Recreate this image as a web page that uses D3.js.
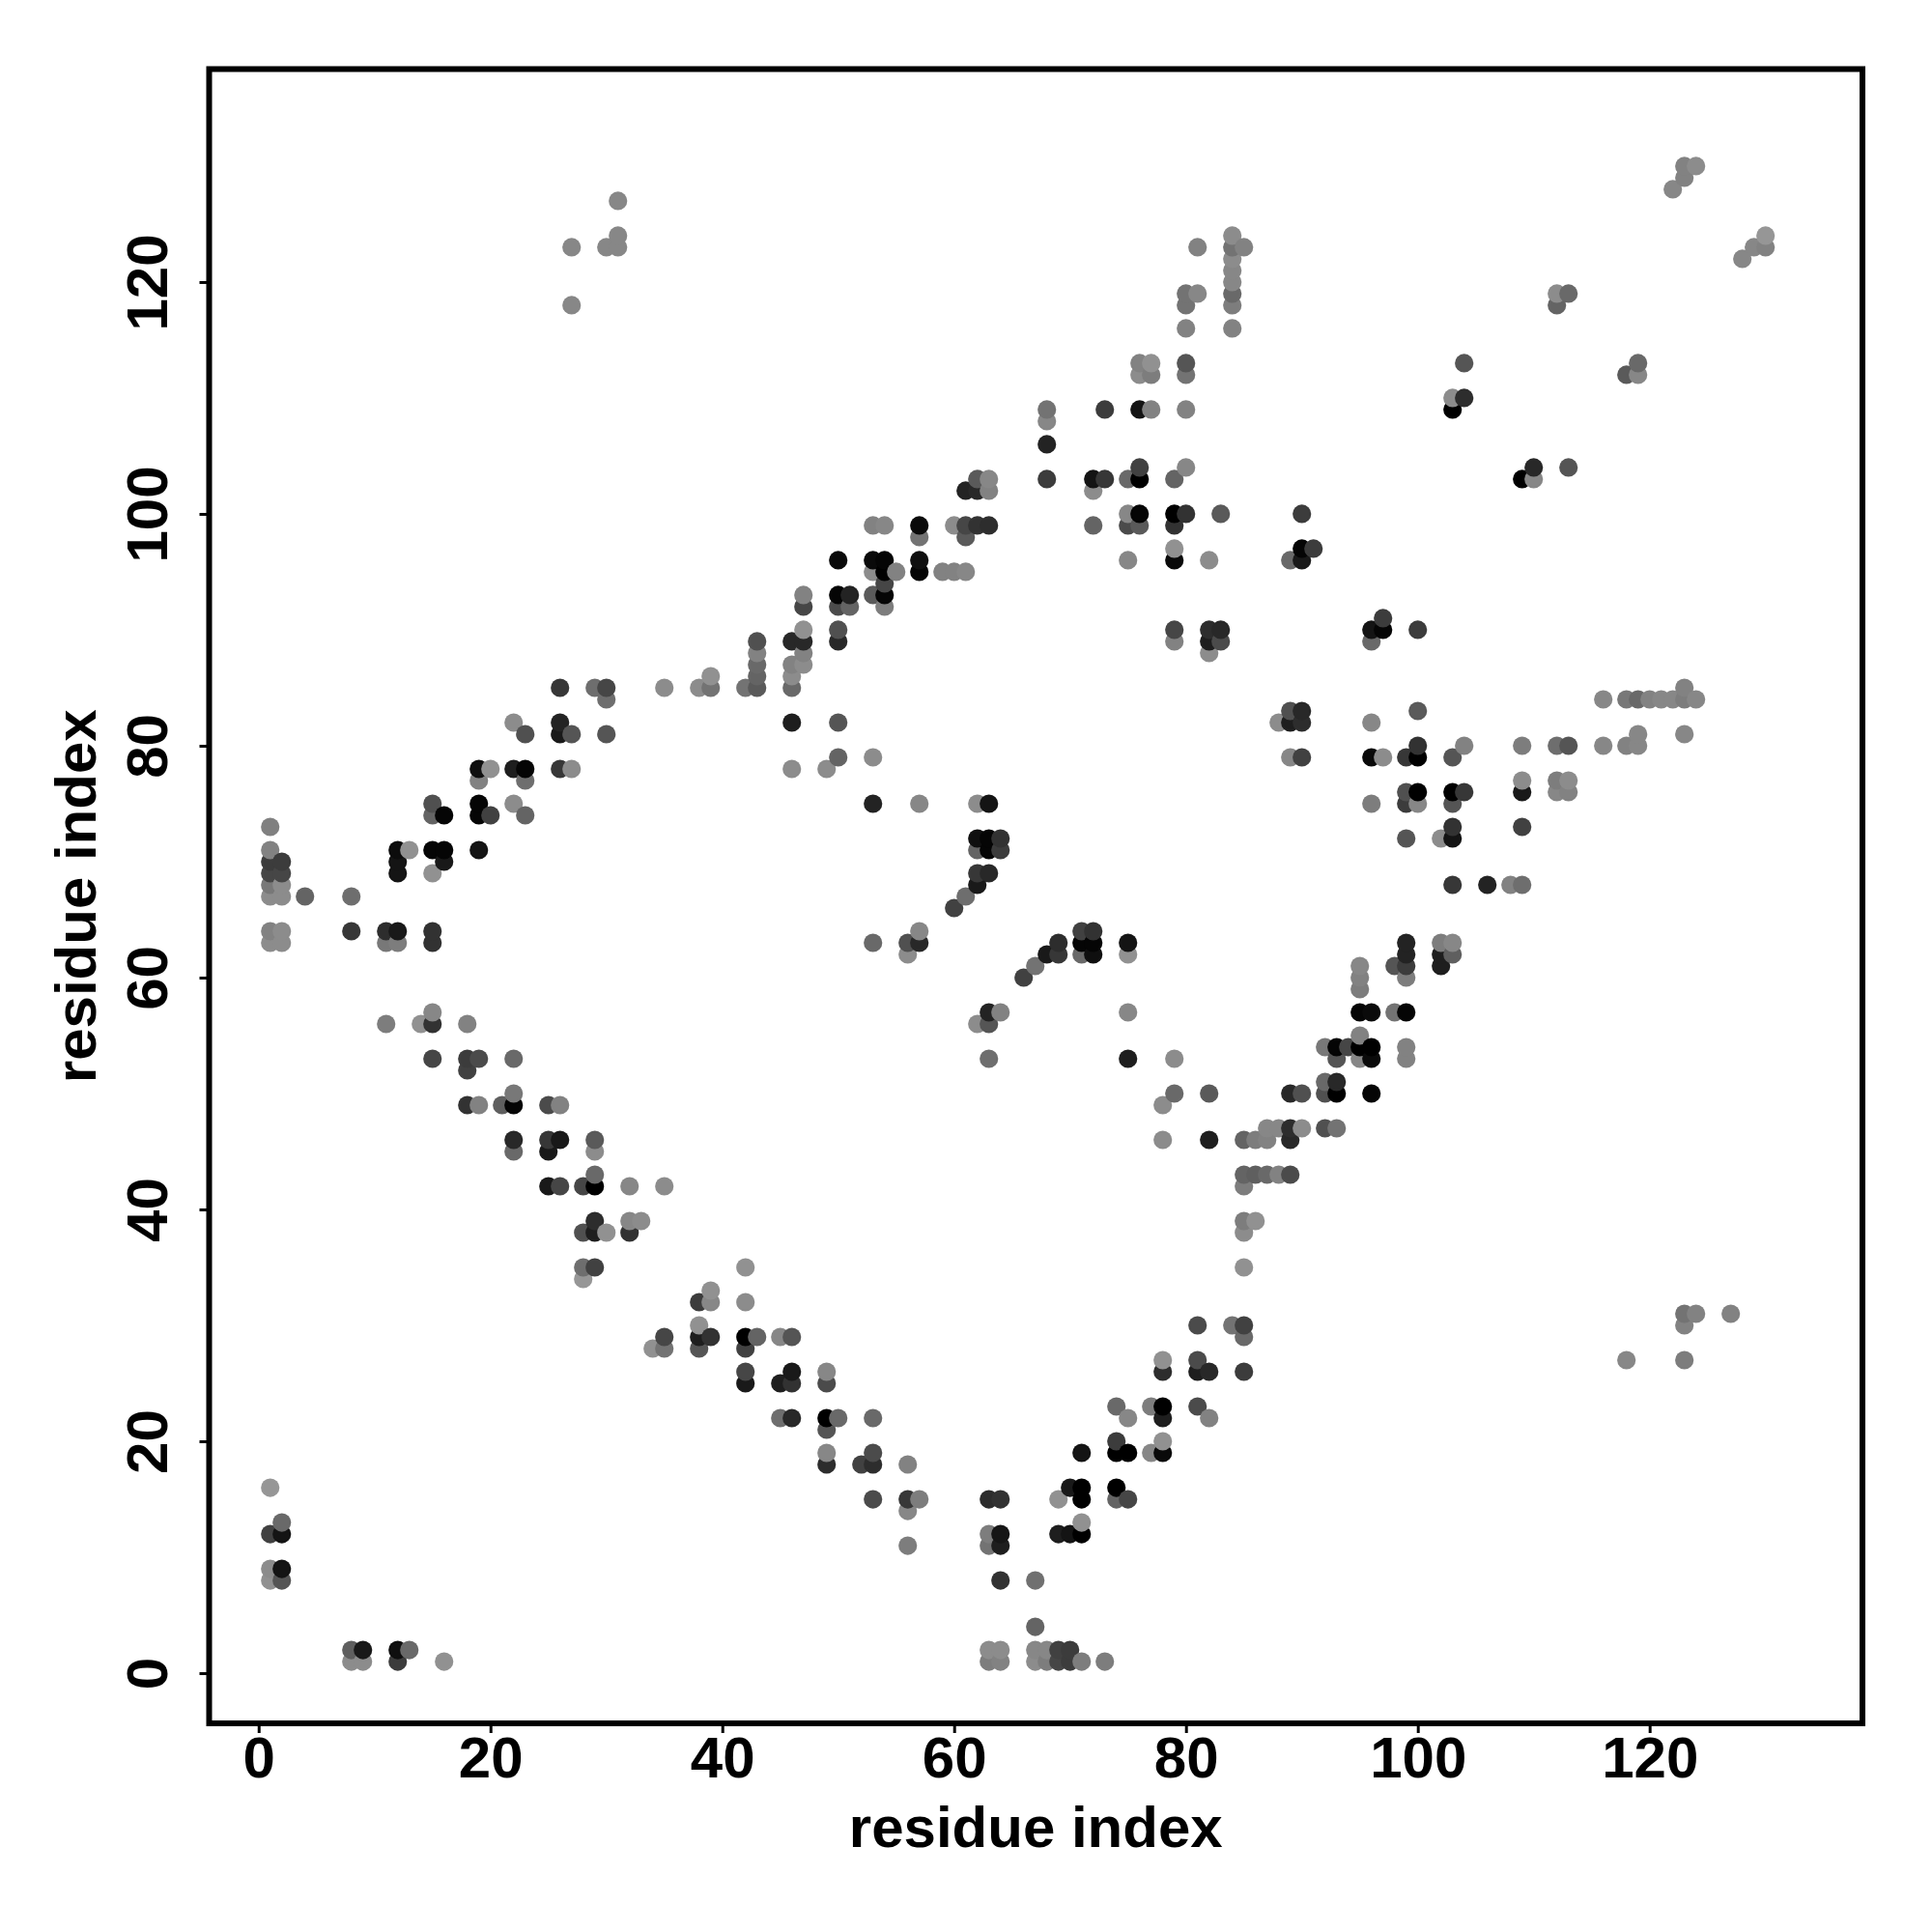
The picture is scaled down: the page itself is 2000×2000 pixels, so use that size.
<!DOCTYPE html>
<html>
<head>
<meta charset="utf-8">
<script src="https://cdnjs.cloudflare.com/ajax/libs/d3/7.8.5/d3.min.js"></script>
<style>html,body{margin:0;padding:0;background:#fff}svg{display:block}</style>
</head>
<body>
<div id="chart"></div>
<script>
const tickValues = [0, 20, 40, 60, 80, 100, 120];
const axisTitle = "residue index";
const residueX = [1,2,4,8,9,11,12,13,14,15,16,18,19,20,21,22,23,25,26,27,28,29,30,31,32,33,34,35,38,39,42,43,45,46,47,49,50,51,52,53,54,55,56,57,59,60,61,62,63,64,66,67,68,69,70,71,72,73,74,75,76,77,78,79,80,81,82,83,84,85,86,87,88,89,90,91,92,93,94,95,96,97,98,99,100,102,103,104,106,108,109,110,112,113,116,118,119,120,121,122,123,124,127,128,129,130];
const contactY = [
[8,9,12,16,63,64,67,68,69,70,71,73],
[8,9,12,13,63,64,67,68,69,70],
[67],
[1,2,64,67],
[1,2],
[56,63,64],
[1,2,63,64,69,70,71],
[2,71],
[56],
[53,56,57,63,64,69,71,74,75],
[1,70,71,74],
[49,52,53,56],
[49,53,71,74,75,77,78],
[74,78],
[49],
[45,46,49,50,53,75,78,82],
[74,77,78,81],
[42,45,46,49],
[42,46,49,78,81,82,85],
[78,81,118,123],
[34,35,38,42],
[35,38,39,42,43,45,46,85],
[38,81,84,85,123],
[123,124,127],
[38,39,42],
[39],
[28],
[28,29,42,85],
[28,29,30,32,85],
[29,32,33,85,86],
[25,26,28,29,32,35,85],
[29,85,86,87,88,89],
[22,25,29],
[22,25,26,29,78,82,85,86,87,89],
[87,88,89,90,92,93],
[18,19,21,22,25,26,78],
[22,79,82,89,90,92,93,96],
[92,93],
[18],
[15,18,19,22,63,75,79,93,95,96,99],
[92,93,94,95,96,99],
[95],
[11,14,15,18,62,63],
[15,63,64,75,95,96,98,99],
[95],
[66,95,99],
[67,95,98,99,102],
[56,68,69,71,72,75,99,102,103],
[1,2,11,12,15,53,56,57,69,71,72,75,99,102,103],
[1,2,8,11,12,15,57,71,72],
[60],
[1,2,4,8,61],
[1,2,62,103,106,108,109],
[1,2,12,15,62,63],
[1,2,12,16],
[1,12,13,15,16,19,62,63,64],
[62,63,64,99,102,103],
[1,103,109],
[15,16,19,20,23],
[15,19,22,53,57,62,63,96,99,100,103],
[99,100,103,104,109,112,113],
[19,23,109,112,113],
[19,20,22,23,26,27,46,49],
[50,53,89,90,96,97,99,100,103],
[100,104,109,112,113,116,118,119],
[23,26,27,30,119,123],
[22,26,46,50,88,89,90,96],
[89,90,100],
[30,116,118,119,120,121,122,123,124],
[26,29,30,35,38,39,42,43,46,123],
[39,43,46],
[43,46,47],
[43,47,82],
[43,46,47,50,79,82,83,96],
[47,50,79,82,83,96,97,100],
[97],
[47,50,51,54],
[47,50,51,53,54],
[54],
[53,54,55,57,59,60,61],
[50,53,54,57,75,79,82,89,90],
[79,90,91],
[57,61],
[53,54,57,60,61,62,63,72,75,76,79],
[75,76,79,80,83,90],
[61,62,63,72],
[62,63,68,72,73,75,76,79,109,110],
[76,80,110,113],
[68],
[68],
[68,73,76,77,80,103],
[103,104],
[76,77,80,118,119],
[76,77,80,104,119],
[80,84],
[27,80,84,112],
[80,81,84,112,113],
[84],
[84],
[84,128],
[27,30,31,81,84,85,129,130],
[31,84,130],
[31],
[122],
[123],
[123,124]
];
const contactGray = [
[145,140,65,150,140,130,140,120,70,60,130,128],
[85,20,20,105,140,140,140,140,70,60],
[100],
[140,95,55,110],
[140,25],
[125,120,45],
[60,15,125,25,20,20,12],
[105,145],
[145],
[70,50,135,50,50,145,5,100,80],
[145,25,5,5],
[50,65,60,130],
[130,75,20,5,5,130,15],
[65,145],
[95],
[105,40,5,120,105,140,30,140],
[100,110,5,80],
[25,25,55,75],
[70,25,130,55,25,35,55],
[140,85,135,135],
[150,110,80,70],
[65,30,45,0,105,140,90,110],
[145,85,110,70,135],
[135,135,135],
[50,135,135],
[140],
[145],
[115,70,140,140],
[85,30,145,60,140],
[50,135,145,115,145],
[25,70,65,0,140,145,115],
[100,90,100,105,130,80],
[110,30,135],
[40,50,25,85,140,30,105,140,130,40],
[140,130,40,145,70,130],
[45,135,85,0,75,135,140],
[105,100,85,40,80,75,5,10],
[100,35],
[65],
[75,45,75,105,105,35,140,90,140,10,130],
[125,5,70,0,5,135],
[130],
[125,135,55,130,140,80],
[125,40,135,135,5,15,115,10],
[130],
[65,130,140],
[110,135,90,70,35],
[140,25,55,100,15,140,50,40,90],
[125,140,115,125,45,110,85,35,40,5,5,20,45,130,135],
[130,140,50,30,22,50,130,60,50],
[65],
[140,135,100,112,115],
[125,135,25,60,35,135,115],
[70,65,30,145,55,45],
[60,60,20,25],
[125,0,145,0,0,20,105,5,65],
[15,5,50,100,140,20],
[125,55,60],
[100,0,0,60,105],
[70,0,135,30,135,145,20,135,75,135,105],
[90,5,0,65,20,140,130],
[135,125,130,125,145],
[10,145,30,0,45,145,140,140],
[105,140,130,70,10,145,50,0,100],
[50,135,130,115,85,130,115,115],
[75,30,75,75,135,130],
[130,40,30,90,140,30,45,140],
[75,40,90],
[115,130,125,105,135,135,140,115,140],
[60,105,65,145,140,125,125,100,100,130],
[145,95,125],
[105,130,135],
[130,135,140],
[75,40,45,40,135,30,80,105],
[140,80,65,45,40,25,5,60],
[60],
[80,80,105,120],
[115,0,40,85,5],
[70],
[135,0,130,5,125,130,135],
[5,10,0,10,125,10,135,105,20],
[140,5,60],
[115,85],
[130,130,5,125,60,35,35,85,60,80,55],
[135,0,0,50,90,60],
[30,30,125,140],
[95,135,55,20,50,85,0,85,0,140],
[55,130,45,85],
[35],
[130],
[110,65,25,140,125,0],
[135,40],
[135,125,110,100,140],
[130,140,85,85,105],
[135,135],
[135,130,120,90],
[135,135,105,135,105],
[130],
[135],
[135,135],
[125,130,115,135,125,130,130,130],
[130,135,140],
[130],
[135],
[135],
[130,150]
];

const contacts = residueX.flatMap((rx, i) =>
  contactY[i].map((ry, j) => ({x: rx, y: ry, gray: contactGray[i][j]})));

const plotLeft = 216.5, plotRight = 1928, plotTop = 71.5, plotBottom = 1784;
const xScale = d3.scaleLinear().domain([-4.27, 138.36]).range([plotLeft, plotRight]);
const yScale = d3.scaleLinear().domain([-4.33, 138.37]).range([plotBottom, plotTop]);
const labelFont = "'Liberation Sans', Arial, Helvetica, sans-serif";

const svg = d3.select("#chart").append("svg")
  .attr("width", 2000).attr("height", 2000)
  .attr("viewBox", "0 0 2000 2000");
svg.append("rect").attr("width", 2000).attr("height", 2000).attr("fill", "#fff");

svg.append("g").selectAll("circle").data(contacts).join("circle")
  .attr("cx", d => xScale(d.x))
  .attr("cy", d => yScale(d.y))
  .attr("r", 9.6)
  .attr("fill", d => d3.rgb(d.gray, d.gray, d.gray).formatHex());

const xAxis = svg.append("g").attr("transform", `translate(0,${plotBottom})`)
  .call(d3.axisBottom(xScale).tickValues(tickValues).tickFormat(d3.format("d")).tickSize(10));
const yAxis = svg.append("g").attr("transform", `translate(${plotLeft},0)`)
  .call(d3.axisLeft(yScale).tickValues(tickValues).tickFormat(d3.format("d")).tickSize(10));
[xAxis, yAxis].forEach(a => {
  a.select(".domain").remove();
  a.selectAll("line").attr("stroke", "#000").attr("stroke-width", 3);
  a.selectAll("text").attr("fill", "#000")
    .style("font-family", labelFont).style("font-size", "60px").style("font-weight", "700");
});
xAxis.selectAll("text").attr("y", 56).attr("dy", 0);
yAxis.selectAll("text").attr("x", 0).attr("dy", 0).attr("y", 0)
  .attr("text-anchor", "middle").attr("transform", "translate(-44,0) rotate(-90)");

svg.append("rect").attr("x", plotLeft).attr("y", plotTop)
  .attr("width", plotRight - plotLeft).attr("height", plotBottom - plotTop)
  .attr("fill", "none").attr("stroke", "#000").attr("stroke-width", 6);

svg.append("text").text(axisTitle)
  .attr("x", (plotLeft + plotRight) / 2).attr("y", 1912).attr("text-anchor", "middle")
  .style("font-family", labelFont).style("font-size", "60px").style("font-weight", "700");
svg.append("text").text(axisTitle)
  .attr("text-anchor", "middle").attr("transform", `translate(99,${(plotTop + plotBottom) / 2}) rotate(-90)`)
  .style("font-family", labelFont).style("font-size", "60px").style("font-weight", "700");
</script>
</body>
</html>
